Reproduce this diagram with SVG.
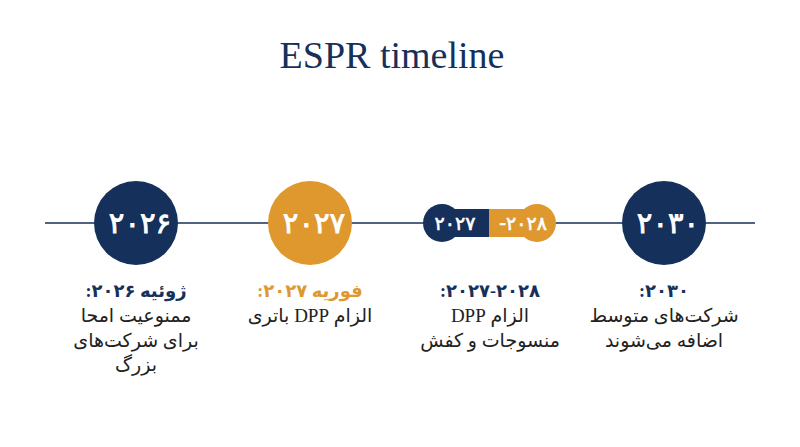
<svg xmlns="http://www.w3.org/2000/svg" width="800" height="447" viewBox="0 0 800 447">
<style>
.navy{fill:#15305A}
.orange{fill:#DF982E}
.num{fill:#FFFFFF;stroke:#FFFFFF;stroke-width:0.9px;font-family:"DejaVu Sans",sans-serif;text-anchor:middle}
.big{font-size:29px;letter-spacing:-9px}
.small{font-size:19px;letter-spacing:-5px;stroke-width:0.6px}
.d{letter-spacing:-3px}
.head{font-family:"Liberation Serif","DejaVu Sans",sans-serif;font-weight:bold;font-size:18px;text-anchor:middle}
.body{fill:#222222;font-family:"Liberation Serif","DejaVu Sans",sans-serif;font-size:19px;text-anchor:middle}
.title{fill:#15305A;font-family:"Liberation Serif",serif;font-size:38px;text-anchor:middle}
</style>
<rect width="800" height="447" fill="#FFFFFF"/>
<text class="title" x="392" y="68">ESPR timeline</text>
<g id="connectors">
<line x1="45" y1="223" x2="755" y2="223" stroke="#15305A" stroke-width="1.5"/>
</g>
<g id="node-2026">
<circle class="navy" cx="136" cy="223" r="42"/>
<text class="num big" x="140" y="233">۲۰۲۶</text>
<text class="head navy" x="136" y="297" direction="rtl">ژوئیه <tspan class="d">۲۰۲۶</tspan>:</text>
<text class="body" x="136" y="322" direction="rtl">ممنوعیت امحا</text>
<text class="body" x="136" y="347" direction="rtl">برای شرکت‌های</text>
<text class="body" x="136" y="371" direction="rtl">بزرگ</text>
</g>
<g id="node-2027">
<circle class="orange" cx="310" cy="223" r="42"/>
<text class="num big" x="314" y="233">۲۰۲۷</text>
<text class="head orange" x="310" y="297" direction="rtl">فوریه <tspan class="d">۲۰۲۷</tspan>:</text>
<text class="body" x="310" y="322" direction="rtl">الزام DPP باتری</text>
</g>
<g id="node-2027-2028">
<circle class="navy" cx="442" cy="223" r="19"/>
<rect class="navy" x="442" y="209" width="47" height="28"/>
<rect class="orange" x="489" y="209" width="48" height="28"/>
<circle class="orange" cx="537" cy="223" r="19"/>
<text class="num small" x="455" y="230">۲۰۲۷</text>
<text class="num small" x="523" y="230">-۲۰۲۸</text>
<text class="head navy" x="490" y="297" direction="rtl"><tspan class="d">۲۰۲۷-۲۰۲۸</tspan>:</text>
<text class="body" x="490" y="322" direction="rtl">الزام DPP</text>
<text class="body" x="490" y="347" direction="rtl">منسوجات و کفش</text>
</g>
<g id="node-2030">
<circle class="navy" cx="664" cy="223" r="42"/>
<text class="num big" x="668" y="233">۲۰۳۰</text>
<text class="head navy" x="664" y="297" direction="rtl"><tspan class="d">۲۰۳۰</tspan>:</text>
<text class="body" x="664" y="322" direction="rtl">شرکت‌های متوسط</text>
<text class="body" x="664" y="347" direction="rtl">اضافه می‌شوند</text>
</g>
</svg>
